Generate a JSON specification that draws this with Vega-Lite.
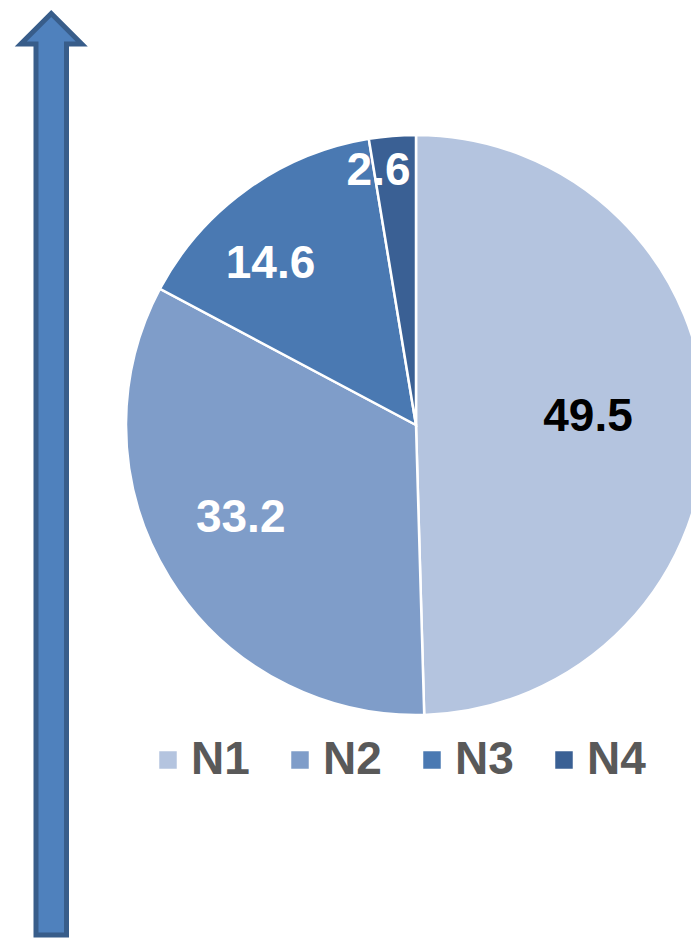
{
  "$schema": "https://vega.github.io/schema/vega-lite/v6.json",
  "width": 691,
  "height": 938,
  "autosize": {"type": "none"},
  "padding": 0,
  "background": "white",
  "config": {"view": {"stroke": null}},
  "data": {"values": [
    {"cat": "N1", "value": 49.5},
    {"cat": "N2", "value": 33.2},
    {"cat": "N3", "value": 14.6},
    {"cat": "N4", "value": 2.6}
  ]},
  "layer": [
    {
      "data": {"values": [{"item": "arrow"}]},
      "mark": {"type": "point", "shape": "M0,-1L0.0662,-0.9338L0.0331,-0.9338L0.0331,1L-0.0331,1L-0.0331,-0.9338L-0.0662,-0.9338Z", "filled": true, "fill": "#4f81bd", "stroke": "#385d8a", "strokeWidth": 5, "strokeJoin": "miter", "size": 849162, "opacity": 1},
      "encoding": {
        "x": {"datum": 51.25, "type": "quantitative", "scale": {"domain": [0, 691]}, "axis": null},
        "y": {"datum": 474.25, "type": "quantitative", "scale": {"domain": [0, 938], "reverse": true}, "axis": null}
      }
    },
    {
      "mark": {"type": "arc", "outerRadius": 290, "stroke": "white", "strokeWidth": 2.5},
      "encoding": {
        "x": {"datum": 416, "type": "quantitative", "scale": {"domain": [0, 691]}, "axis": null},
        "y": {"datum": 425, "type": "quantitative", "scale": {"domain": [0, 938], "reverse": true}, "axis": null},
        "theta": {"field": "value", "type": "quantitative", "stack": true},
        "order": {"field": "cat", "sort": "ascending"},
        "color": {
          "field": "cat", "type": "nominal",
          "scale": {"domain": ["N1", "N2", "N3", "N4"], "range": ["#b4c4df", "#7f9dc9", "#4a79b2", "#3a6094"]},
          "legend": {
            "title": null, "orient": "none", "direction": "horizontal",
            "legendX": 145, "legendY": 737,
            "symbolType": "square", "symbolSize": 306, "symbolStrokeWidth": 0,
            "labelFont": "Liberation Sans", "labelFontWeight": "bold", "labelFontSize": 46,
            "labelColor": "#595959", "labelOffset": 0, "columnPadding": 27, "labelLimit": 300
          }
        }
      }
    },
    {
      "mark": {"type": "text", "radius": 172, "dy": -6, "font": "Liberation Sans", "fontWeight": "bold", "fontSize": 46, "fill": "black"},
      "encoding": {
        "x": {"datum": 416, "type": "quantitative", "scale": {"domain": [0, 691]}, "axis": null},
        "y": {"datum": 425, "type": "quantitative", "scale": {"domain": [0, 938], "reverse": true}, "axis": null},
        "theta": {"field": "value", "type": "quantitative", "stack": true},
        "order": {"field": "cat", "sort": "ascending"},
        "text": {"condition": {"test": "datum.cat === 'N1'", "field": "value", "format": ".1f"}, "value": ""}
      }
    },
    {
      "mark": {"type": "text", "radius": 198, "dx": -7, "dy": -11, "font": "Liberation Sans", "fontWeight": "bold", "fontSize": 46, "fill": "white"},
      "encoding": {
        "x": {"datum": 416, "type": "quantitative", "scale": {"domain": [0, 691]}, "axis": null},
        "y": {"datum": 425, "type": "quantitative", "scale": {"domain": [0, 938], "reverse": true}, "axis": null},
        "theta": {"field": "value", "type": "quantitative", "stack": true},
        "order": {"field": "cat", "sort": "ascending"},
        "text": {"condition": {"test": "datum.cat === 'N2'", "field": "value", "format": ".1f"}, "value": ""}
      }
    },
    {
      "mark": {"type": "text", "radius": 216, "dx": -19.5, "dy": 14, "font": "Liberation Sans", "fontWeight": "bold", "fontSize": 46, "fill": "white"},
      "encoding": {
        "x": {"datum": 416, "type": "quantitative", "scale": {"domain": [0, 691]}, "axis": null},
        "y": {"datum": 425, "type": "quantitative", "scale": {"domain": [0, 938], "reverse": true}, "axis": null},
        "theta": {"field": "value", "type": "quantitative", "stack": true},
        "order": {"field": "cat", "sort": "ascending"},
        "text": {"condition": {"test": "datum.cat === 'N3'", "field": "value", "format": ".1f"}, "value": ""}
      }
    },
    {
      "mark": {"type": "text", "radius": 256, "dx": -16.5, "dy": 1.5, "font": "Liberation Sans", "fontWeight": "bold", "fontSize": 46, "fill": "white"},
      "encoding": {
        "x": {"datum": 416, "type": "quantitative", "scale": {"domain": [0, 691]}, "axis": null},
        "y": {"datum": 425, "type": "quantitative", "scale": {"domain": [0, 938], "reverse": true}, "axis": null},
        "theta": {"field": "value", "type": "quantitative", "stack": true},
        "order": {"field": "cat", "sort": "ascending"},
        "text": {"condition": {"test": "datum.cat === 'N4'", "field": "value", "format": ".1f"}, "value": ""}
      }
    }
  ]
}
